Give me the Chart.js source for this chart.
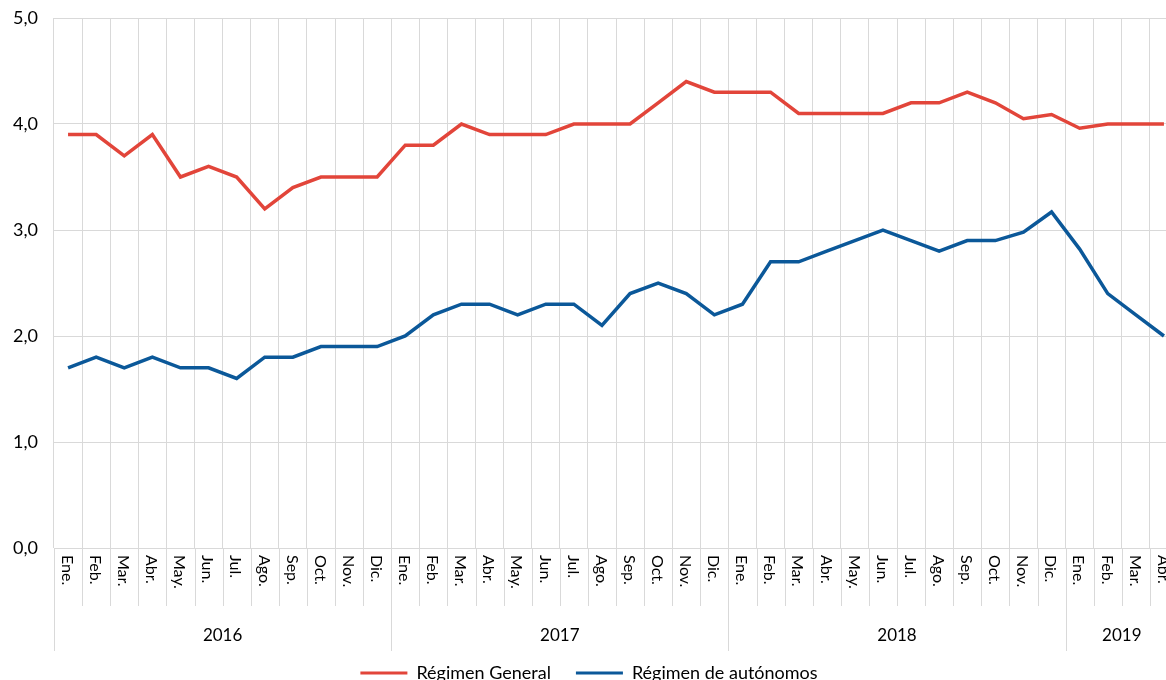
<!DOCTYPE html>
<html>
<head>
<meta charset="utf-8">
<script src="https://cdn.jsdelivr.net/npm/chart.js@4/dist/chart.umd.min.js"></script>
<style>
  html, body { margin: 0; padding: 0; background: #fff; overflow: hidden; width: 1166px; height: 680px; }
  #wrap { width: 1180px; height: 692px; }
</style>
</head>
<body>
<div id="wrap"><canvas id="chart" width="1180" height="692"></canvas></div>
<script>
"use strict";

const years = ['2016', '2017', '2018', '2019'];
const yearMonths = [12, 12, 12, 4];
const monthNames = ['Ene.', 'Feb.', 'Mar.', 'Abr.', 'May.', 'Jun.', 'Jul.', 'Ago.', 'Sep.', 'Oct.', 'Nov.', 'Dic.'];

const regimenGeneral = [
  3.9, 3.9, 3.7, 3.9, 3.5, 3.6, 3.5, 3.2, 3.4, 3.5, 3.5, 3.5,
  3.8, 3.8, 4.0, 3.9, 3.9, 3.9, 4.0, 4.0, 4.0, 4.2, 4.4, 4.3,
  4.3, 4.3, 4.1, 4.1, 4.1, 4.1, 4.2, 4.2, 4.3, 4.2, 4.05, 4.09,
  3.96, 4.0, 4.0, 4.0
];
const regimenAutonomos = [
  1.7, 1.8, 1.7, 1.8, 1.7, 1.7, 1.6, 1.8, 1.8, 1.9, 1.9, 1.9,
  2.0, 2.2, 2.3, 2.3, 2.2, 2.3, 2.3, 2.1, 2.4, 2.5, 2.4, 2.2,
  2.3, 2.7, 2.7, 2.8, 2.9, 3.0, 2.9, 2.8, 2.9, 2.9, 2.98, 3.17,
  2.82, 2.4, 2.2, 2.0
];
const yTicks = [0, 1, 2, 3, 4, 5];

const FONT = 'Lato, "Open Sans", sans-serif';
const GRID = '#d9d9d9';

// month labels built from the year list
const labels = [];
years.forEach((y, i) => {
  for (let m = 0; m < yearMonths[i]; m++) labels.push(monthNames[m]);
});

// draws rotated month names, year names and the long separators under the axis
const axisLabels = {
  id: 'axisLabels',
  afterDraw(chart) {
    const ctx = chart.ctx;
    const x = chart.scales.x;
    const bottom = chart.chartArea.bottom;
    const step = x.getPixelForValue(1) - x.getPixelForValue(0);
    const edge = i => x.getPixelForValue(i) - step / 2;

    ctx.save();
    ctx.strokeStyle = GRID;
    ctx.lineWidth = 1;

    // month separators
    for (let i = 0; i <= labels.length; i++) {
      const px = Math.round(edge(i)) + 0.5;
      ctx.beginPath();
      ctx.moveTo(px, bottom);
      ctx.lineTo(px, bottom + 58);
      ctx.stroke();
    }

    // year separators
    let start = 0;
    const bounds = [0];
    yearMonths.forEach(n => { start += n; bounds.push(start); });
    bounds.forEach(b => {
      const px = Math.round(edge(b)) + 0.5;
      ctx.beginPath();
      ctx.moveTo(px, bottom);
      ctx.lineTo(px, bottom + 103);
      ctx.stroke();
    });

    // month names, reading top to bottom
    ctx.fillStyle = '#000';
    ctx.font = '16px ' + FONT;
    ctx.textAlign = 'left';
    ctx.textBaseline = 'middle';
    labels.forEach((l, i) => {
      ctx.save();
      ctx.translate(x.getPixelForValue(i) - 1, bottom + 7);
      ctx.rotate(Math.PI / 2);
      ctx.fillText(l, 0, 0);
      ctx.restore();
    });

    // year names
    ctx.font = '17px ' + FONT;
    ctx.textAlign = 'center';
    years.forEach((y, i) => {
      const cx = (edge(bounds[i]) + edge(bounds[i + 1])) / 2;
      ctx.fillText(y, cx, bottom + 88);
    });
    ctx.restore();
  }
};

const canvas = document.getElementById('chart');

new Chart(canvas, {
  type: 'line',
  data: {
    labels: labels,
    datasets: [
      {
        label: 'Régimen General',
        data: regimenGeneral,
        borderColor: '#e2453a',
        backgroundColor: '#e2453a',
        borderWidth: 3.5,
        pointRadius: 0,
        tension: 0
      },
      {
        label: 'Régimen de autónomos',
        data: regimenAutonomos,
        borderColor: '#0b5899',
        backgroundColor: '#0b5899',
        borderWidth: 3.5,
        pointRadius: 0,
        tension: 0
      }
    ]
  },
  options: {
    responsive: false,
    animation: false,
    layout: { padding: { top: 18, right: 2, left: 0, bottom: 0 } },
    scales: {
      x: {
        offset: true,
        grid: { color: GRID, offset: true, drawTicks: false },
        border: { display: false },
        ticks: { display: false },
        afterFit: s => { s.height = 91; }
      },
      y: {
        min: 0,
        max: 5,
        afterBuildTicks: s => { s.ticks = yTicks.map(v => ({ value: v })); },
        grid: { color: GRID, drawTicks: true, tickLength: 16, tickColor: 'rgba(0,0,0,0)' },
        border: { display: false },
        ticks: {
          padding: 0,
          color: '#000',
          font: { family: FONT, size: 18 },
          callback: v => v.toFixed(1).replace('.', ',')
        },
        afterFit: s => { s.width = 54; }
      }
    },
    plugins: {
      tooltip: { enabled: false },
      legend: {
        position: 'bottom',
        labels: {
          color: '#000',
          font: { family: FONT, size: 18 },
          boxWidth: 47,
          boxHeight: 3,
          padding: 25,
          generateLabels: chart =>
            Chart.defaults.plugins.legend.labels.generateLabels(chart).map(l => ({ ...l, lineWidth: 0 }))
        }
      }
    }
  },
  plugins: [axisLabels]
});
</script>
</body>
</html>
